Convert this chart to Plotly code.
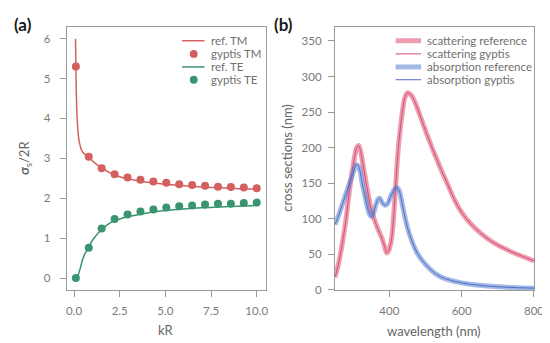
import plotly.graph_objects as go

W, H = 550, 343

# ---------- panel (a) data ----------
kr_pts = [0.1, 0.807, 1.514, 2.221, 2.929, 3.636, 4.343, 5.05, 5.757, 6.464, 7.171, 7.879, 8.586, 9.293, 10.0]
tm_pts = [5.30, 3.04, 2.75, 2.60, 2.52, 2.46, 2.42, 2.39, 2.35, 2.33, 2.31, 2.29, 2.28, 2.27, 2.25]
te_pts = [0.00, 0.76, 1.24, 1.48, 1.59, 1.67, 1.72, 1.77, 1.80, 1.82, 1.84, 1.86, 1.86, 1.88, 1.89]

kr_ref_tm = [0.08, 0.1, 0.13, 0.16, 0.2, 0.25, 0.3, 0.4, 0.5, 0.65, 0.8, 1.0, 1.25, 1.5, 2.0, 2.5,
             3.0, 3.5, 4.0, 5.0, 6.0, 7.0, 8.0, 9.0, 10.0]
tm_ref = [6.0, 5.3, 4.55, 4.1, 3.78, 3.52, 3.38, 3.22, 3.14, 3.08, 3.03, 2.94, 2.84, 2.76, 2.63, 2.54,
          2.48, 2.44, 2.40, 2.35, 2.31, 2.28, 2.26, 2.24, 2.23]

kr_ref_te = [0.1, 0.2, 0.3, 0.4, 0.5, 0.6, 0.7, 0.8, 0.9, 1.0, 1.2, 1.5, 2.0, 2.5, 3.0, 4.0, 5.0,
             6.0, 7.0, 8.0, 9.0, 10.0]
te_ref = [0.0, 0.05, 0.18, 0.35, 0.5, 0.61, 0.69, 0.76, 0.86, 0.94, 1.06, 1.21, 1.39, 1.48, 1.54,
          1.63, 1.69, 1.73, 1.76, 1.78, 1.80, 1.82]

# ---------- panel (b) data ----------
wl_scat = [250, 260, 270, 280, 290, 300, 310, 315, 320, 330, 340, 350, 360, 370, 380, 387, 393, 398,
           405, 410, 418, 425, 430, 436, 443, 450, 460, 470, 480, 490, 500, 515, 530, 545, 560,
           580, 600, 625, 650, 675, 700, 750, 800]
scat_ref = [18, 38, 65, 98, 140, 175, 200, 203, 196, 168, 139, 113, 97, 84, 72, 61, 52, 55,
            68, 90, 150, 200, 225, 250, 270, 277, 274, 265, 252, 238, 224, 204, 185, 167, 150,
            127, 109, 93, 81, 71, 63, 51, 41]
scat_gyptis = list(scat_ref)

wl_abs = [250, 260, 270, 280, 290, 300, 305, 310, 315, 320, 325, 332, 340, 345, 350, 355, 362, 368,
          373, 380, 388, 395, 405, 415, 421, 427, 433, 440, 450, 460, 477, 500, 520, 540, 560,
          600, 650, 700, 750, 800]
abs_ref = [92, 105, 120, 135, 150, 165, 172, 176, 174, 165, 150, 134, 115, 107, 103, 106, 118, 127,
           129, 123, 119, 121, 133, 142, 144, 140, 128, 110, 88, 72, 52, 36, 26, 19, 15,
           10, 6.5, 4.5, 3.3, 2.5]
abs_gyptis = list(abs_ref)

# ---------- styling ----------
FONT = "Lato"
RED = "#d45f5f"
GREEN = "#3a9470"
PINK_THICK = "rgba(222,80,115,0.55)"
PINK_THIN = "#d64d70"
BLUE_THICK = "rgba(90,125,210,0.55)"
BLUE_THIN = "#4a6fc6"
SPINE = "#9a9a9a"
TICKFONT = dict(family=FONT, size=11.5, color="#7a7a7a")

fig = go.Figure()

# panel (a)
fig.add_trace(go.Scatter(x=kr_ref_tm, y=tm_ref, mode="lines", line=dict(color=RED, width=1.5, shape="spline"),
                         xaxis="x", yaxis="y", showlegend=False))
fig.add_trace(go.Scatter(x=kr_pts, y=tm_pts, mode="markers", marker=dict(color=RED, size=8),
                         xaxis="x", yaxis="y", showlegend=False))
fig.add_trace(go.Scatter(x=kr_ref_te, y=te_ref, mode="lines", line=dict(color=GREEN, width=1.5, shape="spline"),
                         xaxis="x", yaxis="y", showlegend=False))
fig.add_trace(go.Scatter(x=kr_pts, y=te_pts, mode="markers", marker=dict(color=GREEN, size=8),
                         xaxis="x", yaxis="y", showlegend=False))

# panel (b)
fig.add_trace(go.Scatter(x=wl_scat, y=scat_ref, mode="lines", line=dict(color=PINK_THICK, width=5, shape="spline"),
                         xaxis="x2", yaxis="y2", showlegend=False))
fig.add_trace(go.Scatter(x=wl_scat, y=scat_gyptis, mode="lines", line=dict(color=PINK_THIN, width=1, shape="spline"),
                         xaxis="x2", yaxis="y2", showlegend=False))
fig.add_trace(go.Scatter(x=wl_abs, y=abs_ref, mode="lines", line=dict(color=BLUE_THICK, width=5, shape="spline"),
                         xaxis="x2", yaxis="y2", showlegend=False))
fig.add_trace(go.Scatter(x=wl_abs, y=abs_gyptis, mode="lines", line=dict(color=BLUE_THIN, width=1, shape="spline"),
                         xaxis="x2", yaxis="y2", showlegend=False))

def px(x):
    return x / W

def py(y):
    return 1 - y / H

common_axis = dict(showline=True, mirror=True, linecolor=SPINE, linewidth=1.3, showgrid=False,
                   zeroline=False, ticks="outside", ticklen=6, tickwidth=1.2, tickcolor=SPINE,
                   tickfont=TICKFONT)

fig.update_layout(
    width=W, height=H, margin=dict(l=0, r=0, t=0, b=0),
    paper_bgcolor="white", plot_bgcolor="white",
    font=dict(family=FONT),
    xaxis=dict(domain=[px(59), px(262)], range=[-0.395, 10.495], tickvals=[0, 2.5, 5, 7.5, 10],
               ticktext=["0.0", "2.5", "5.0", "7.5", "10.0"], anchor="y", ticklabelstandoff=4, **common_axis),
    yaxis=dict(domain=[py(287), py(19)], range=[-0.3, 6.3], tickvals=[0, 1, 2, 3, 4, 5, 6],
               anchor="x", ticklabelstandoff=7, **common_axis),
    xaxis2=dict(domain=[px(332.7), px(535.7)], range=[250, 800], tickvals=[400, 600, 800],
                anchor="y2", ticklabelstandoff=4, **common_axis),
    yaxis2=dict(domain=[py(287), py(19)], range=[0, 370], tickvals=[0, 50, 100, 150, 200, 250, 300, 350],
                anchor="x2", ticklabelstandoff=4, **common_axis),
)

ann = []
shapes = []
TITLEFONT = dict(family=FONT, size=13, color="#666666")
ann.append(dict(x=px(160.5), y=py(328), xref="paper", yref="paper", text="kR", showarrow=False,
                font=TITLEFONT, xanchor="center", yanchor="middle"))
ann.append(dict(x=px(17), y=py(153), xref="paper", yref="paper", text="<b>σ</b><sub>s</sub>/2R",
                showarrow=False, font=TITLEFONT, textangle=-90, xanchor="center", yanchor="middle"))
ann.append(dict(x=px(434), y=py(329), xref="paper", yref="paper", text="wavelength (nm)", showarrow=False,
                font=TITLEFONT, xanchor="center", yanchor="middle"))
ann.append(dict(x=px(284), y=py(153), xref="paper", yref="paper", text="cross sections (nm)",
                showarrow=False, font=TITLEFONT, textangle=-90, xanchor="center", yanchor="middle"))
ann.append(dict(x=px(14), y=py(17), xref="paper", yref="paper", text="<b>(a)</b>", showarrow=False,
                font=dict(family=FONT, size=17, color="#1a1a1a"), xanchor="center", yanchor="middle"))
ann.append(dict(x=px(280), y=py(17), xref="paper", yref="paper", text="<b>(b)</b>", showarrow=False,
                font=dict(family=FONT, size=17, color="#1a1a1a"), xanchor="center", yanchor="middle"))

LEGFONT = dict(family=FONT, size=11.5, color="#707070")
rows = [33.3, 46.7, 60.0, 73.0]

# legend (a)
leg_a = [("ref. TM", "line", RED), ("gyptis TM", "dot", RED), ("ref. TE", "line", GREEN), ("gyptis TE", "dot", GREEN)]
for (label, kind, col), yy in zip(leg_a, rows):
    if kind == "line":
        shapes.append(dict(type="line", xref="paper", yref="paper", x0=px(176.5), x1=px(199.5),
                           y0=py(yy), y1=py(yy), line=dict(color=col, width=1.5)))
    else:
        shapes.append(dict(type="circle", xref="paper", yref="paper", x0=px(184.5), x1=px(192.5),
                           y0=py(yy + 4), y1=py(yy - 4), fillcolor=col, line=dict(width=0)))
    ann.append(dict(x=px(204.5), y=py(yy), xref="paper", yref="paper", text=label, showarrow=False,
                    font=LEGFONT, xanchor="left", yanchor="middle"))

# legend (b)
leg_b = [("scattering reference", PINK_THICK, 5), ("scattering gyptis", PINK_THIN, 1),
         ("absorption reference", BLUE_THICK, 5), ("absorption gyptis", BLUE_THIN, 1)]
for (label, col, lw), yy in zip(leg_b, rows):
    shapes.append(dict(type="line", xref="paper", yref="paper", x0=px(394.5), x1=px(420.5),
                       y0=py(yy), y1=py(yy), line=dict(color=col, width=lw)))
    ann.append(dict(x=px(424.5), y=py(yy), xref="paper", yref="paper", text=label, showarrow=False,
                    font=LEGFONT, xanchor="left", yanchor="middle"))

fig.update_layout(annotations=ann, shapes=shapes)
fig.write_html("out.html")
